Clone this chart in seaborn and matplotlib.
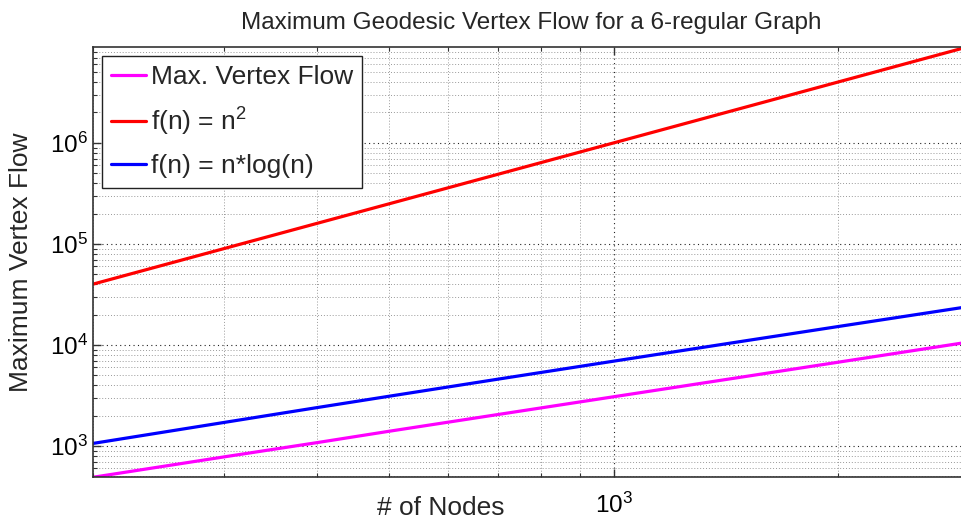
import numpy as np
import pandas as pd
import seaborn as sns
import matplotlib.pyplot as plt
from matplotlib.ticker import LogLocator, NullFormatter, FixedLocator

# data
n_nodes = [200, 300, 400, 500, 700, 1000, 1500, 2000, 3000]
max_flow = [490, 780, 1080, 1400, 2050, 3070, 4860, 6740, 10700]
n_squared = [40000, 90000, 160000, 250000, 490000, 1000000, 2250000, 4000000, 9000000]
n_log_n = [1060, 1710, 2400, 3110, 4590, 6910, 10970, 15200, 24020]

labels = ["Max. Vertex Flow", "f(n) = n$^2$", "f(n) = n*log(n)"]
colors = ["#ff00ff", "#ff0000", "#0000ff"]

df = pd.DataFrame({
    "n": n_nodes * 3,
    "flow": max_flow + n_squared + n_log_n,
    "series": [labels[0]] * len(n_nodes) + [labels[1]] * len(n_nodes) + [labels[2]] * len(n_nodes),
})

sns.set_style("ticks")
plt.rcParams["font.family"] = ["Liberation Sans", "DejaVu Sans"]
plt.rcParams["mathtext.fontset"] = "custom"
plt.rcParams["mathtext.rm"] = "Liberation Sans"
plt.rcParams["mathtext.it"] = "Liberation Sans:italic"

fig = plt.figure(figsize=(9.62, 5.25), dpi=100)
ax = fig.add_axes([93 / 962, 1 - 477 / 525, (969 - 93) / 962, (477 - 47) / 525])

sns.lineplot(data=df, x="n", y="flow", hue="series", hue_order=labels,
             palette=colors, linewidth=2.3, ax=ax)

ax.set_xscale("log")
ax.set_yscale("log")
ax.set_xlim(200, 3000)
ax.set_ylim(493, 8.9e6)

ax.xaxis.set_major_locator(FixedLocator([1000]))
ax.xaxis.set_minor_locator(LogLocator(base=10, subs=np.arange(2, 10)))
ax.xaxis.set_minor_formatter(NullFormatter())
ax.yaxis.set_major_locator(LogLocator(base=10))
ax.yaxis.set_minor_locator(LogLocator(base=10, subs=np.arange(2, 10)))
ax.yaxis.set_minor_formatter(NullFormatter())
ax.xaxis.set_major_formatter(plt.FuncFormatter(lambda v, p: "$10^{%d}$" % round(np.log10(v))))

ax.tick_params(which="both", direction="in", top=True, right=True, labelsize=17.5,
               colors="#333333", labelcolor="black")
ax.tick_params(which="major", length=6, width=1)
ax.tick_params(axis="x", which="major", pad=11)
ax.tick_params(which="minor", length=3, width=0.8)

ax.grid(which="major", linestyle=(0, (1, 3)), color="#222222", linewidth=0.8)
ax.grid(which="minor", linestyle=(0, (1, 2)), color="#999999", linewidth=0.7)

for s in ax.spines.values():
    s.set_color("#333333")
    s.set_linewidth(1.2)

ax.set_title("Maximum Geodesic Vertex Flow for a 6-regular Graph", fontsize=17.5, pad=13)
ax.set_xlabel("# of Nodes", fontsize=19)
ax.set_ylabel("Maximum Vertex Flow", fontsize=19)
ax.xaxis.set_label_coords((441 - 93) / 876, -0.045)
ax.yaxis.set_label_coords(-0.068, 0.5)

leg = ax.legend(loc="upper left", fontsize=19, frameon=True, fancybox=False,
                borderaxespad=0.35, handlelength=1.3, handletextpad=0.2,
                labelspacing=0.62, borderpad=0.35)
leg.get_frame().set_edgecolor("#222222")
leg.get_frame().set_linewidth(1.0)
leg.get_frame().set_alpha(1)

fig.savefig("out.png", dpi=100)
